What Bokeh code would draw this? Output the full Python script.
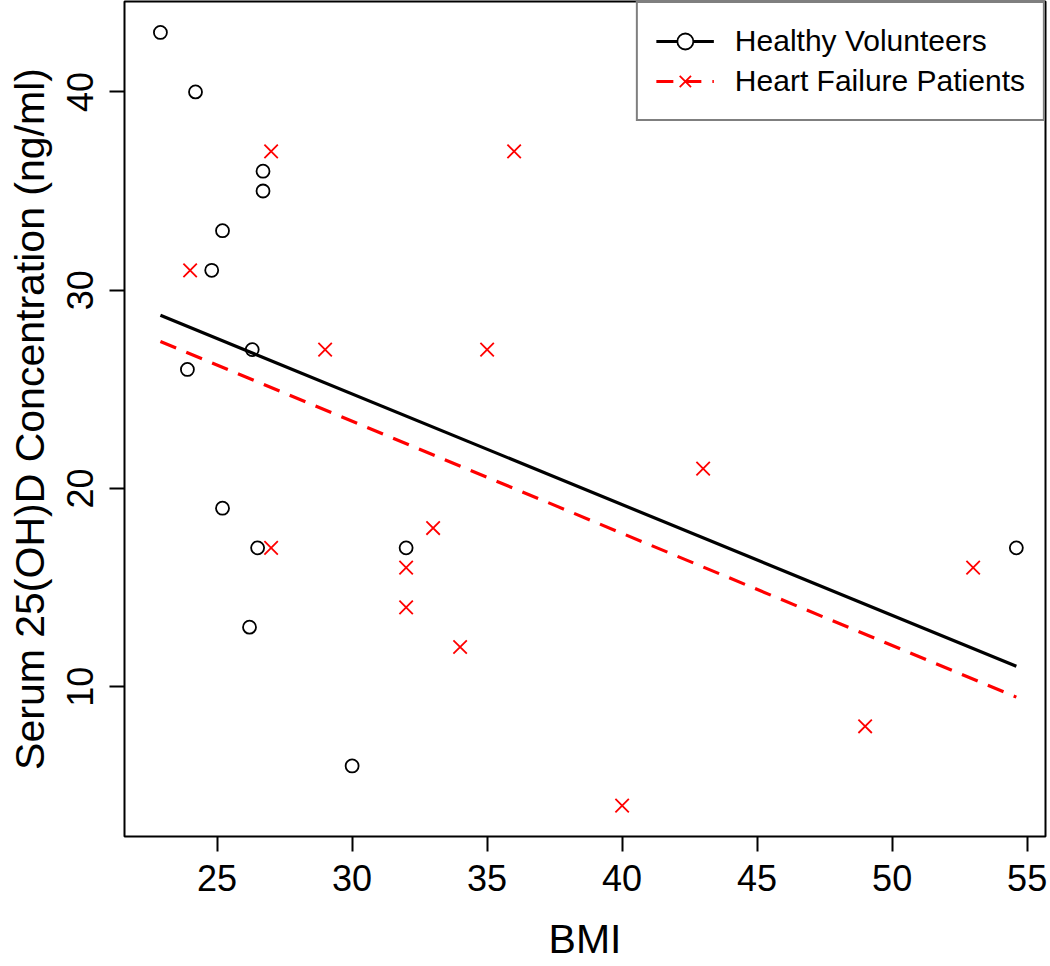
from bokeh.plotting import figure
from bokeh.models import Range1d, FixedTicker, Legend, LegendItem
from bokeh.embed import file_html
from bokeh.resources import INLINE

# ---- data ----
healthy_bmi = [22.9, 24.2, 26.7, 26.7, 25.2, 24.8, 26.3, 23.9, 25.2, 26.5, 26.2, 30.0, 32.0, 54.6]
healthy_vitd = [43, 40, 36, 35, 33, 31, 27, 26, 19, 17, 13, 6, 17, 17]
hf_bmi = [27.0, 24.0, 29.0, 27.0, 33.0, 32.0, 32.0, 34.0, 36.0, 35.0, 43.0, 53.0, 49.0, 40.0]
hf_vitd = [37, 31, 27, 17, 18, 16, 14, 12, 37, 27, 21, 16, 8, 4]
fit_bmi = [22.9, 54.6]
healthy_fit = [28.73, 11.03]
hf_fit = [27.41, 9.47]
x_ticks = [25, 30, 35, 40, 45, 50, 55]
y_ticks = [10, 20, 30, 40]

FONT = "Liberation Sans"

p = figure(width=1048, height=964,
           x_range=Range1d(21.57, 55.68), y_range=Range1d(2.44, 44.56),
           output_backend="svg", toolbar_location=None,
           min_border_left=124, min_border_right=3,
           min_border_top=1, min_border_bottom=125)

p.background_fill_color = "white"
p.border_fill_color = "white"
p.outline_line_color = "black"
p.outline_line_width = 2
p.xgrid.visible = False
p.ygrid.visible = False

for ax in (p.xaxis[0], p.yaxis[0]):
    ax.axis_line_color = None
    ax.major_tick_out = 15
    ax.major_tick_in = 0
    ax.major_tick_line_width = 2
    ax.major_tick_line_color = "black"
    ax.minor_tick_line_color = None
    ax.major_label_text_font = FONT
    ax.major_label_text_font_size = "36px"
    ax.major_label_text_color = "black"
    ax.axis_label_text_font = FONT
    ax.axis_label_text_font_style = "normal"
    ax.axis_label_text_font_size = "41px"
    ax.axis_label_text_color = "black"

p.xaxis.ticker = FixedTicker(ticks=x_ticks)
p.yaxis.ticker = FixedTicker(ticks=y_ticks)
p.xaxis.axis_label = "BMI"
p.yaxis.axis_label = "Serum 25(OH)D Concentration (ng/ml)"
p.xaxis.major_label_standoff = 13
p.xaxis.axis_label_standoff = 22
p.yaxis.major_label_orientation = "vertical"
p.yaxis.major_label_standoff = 16
p.yaxis.axis_label_standoff = 12

hs = p.scatter(healthy_bmi, healthy_vitd, marker="circle", size=13,
               fill_color="white", line_color="black", line_width=1.8)
fs = p.scatter(hf_bmi, hf_vitd, marker="x", size=19,
               line_color="red", line_width=1.8)
hl = p.line(fit_bmi, healthy_fit, line_color="black", line_width=3.2)
fl = p.line(fit_bmi, hf_fit, line_color="red", line_width=3.2,
            line_dash="17 11")

legend = Legend(items=[
    LegendItem(label="Healthy Volunteers", renderers=[hl, hs]),
    LegendItem(label="Heart Failure Patients", renderers=[fl, fs]),
], location="top_right", margin=0, padding=18, spacing=0,
   glyph_width=58, glyph_height=40, label_height=40, label_standoff=21,
   label_text_font=FONT, label_text_font_size="30px",
   label_text_color="black",
   border_line_color="black", border_line_width=2,
   background_fill_color="white", background_fill_alpha=1.0)
p.add_layout(legend, "center")

open("out.html", "w").write(file_html(p, INLINE))
